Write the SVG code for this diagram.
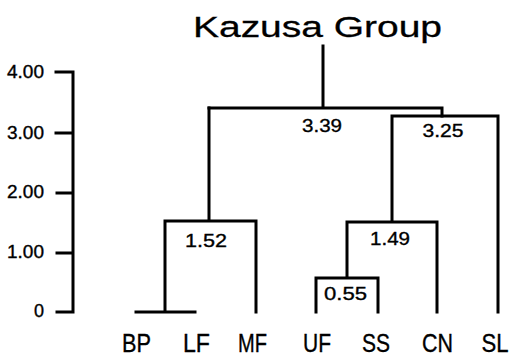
<svg xmlns="http://www.w3.org/2000/svg" width="511" height="357" viewBox="0 0 511 357">
<style>
.ln{stroke:#000;stroke-width:3;fill:none;stroke-linecap:square;stroke-linejoin:miter}
.t{font-family:"Liberation Sans",Arial,sans-serif;fill:#000;stroke:#000;stroke-width:0.35}
.ax{font-size:18px;text-anchor:end}
.num{font-size:19px;text-anchor:middle}
.lab{font-size:25px;text-anchor:middle}
.title{font-size:30px;text-anchor:middle;stroke-width:0.3}
</style>
<rect width="511" height="357" fill="#fff"/>
<text id="title" class="t title" x="317.5" y="37" textLength="249" lengthAdjust="spacingAndGlyphs">Kazusa Group</text>
<g id="axis">
<path class="ln" d="M56 72H73V312H57M56 133H73M57 193H73M57 253H73"/>
<text class="t ax" x="44" y="78" textLength="37" lengthAdjust="spacingAndGlyphs">4.00</text>
<text class="t ax" x="44" y="139" textLength="37" lengthAdjust="spacingAndGlyphs">3.00</text>
<text class="t ax" x="44" y="198" textLength="37" lengthAdjust="spacingAndGlyphs">2.00</text>
<text class="t ax" x="44" y="258" textLength="37" lengthAdjust="spacingAndGlyphs">1.00</text>
<text class="t ax" x="44" y="317">0</text>
</g>
<g id="connectors">
<path class="ln" d="M323 46V108M209 108H442V116"/>
<path class="ln" d="M209 108V221M165 221H256V312M165 221V312M136 312H195"/>
<path class="ln" d="M392 116H498V312M392 116V222M347 222H437V312M347 222V278M316 278H378V312M316 278V312"/>
</g>
<g id="n339"><text class="t num" x="322" y="132" textLength="40" lengthAdjust="spacingAndGlyphs">3.39</text></g>
<g id="n325"><text class="t num" x="443" y="137" textLength="41" lengthAdjust="spacingAndGlyphs">3.25</text></g>
<g id="n152"><text class="t num" x="206" y="247" textLength="42" lengthAdjust="spacingAndGlyphs">1.52</text></g>
<g id="n149"><text class="t num" x="390" y="245" textLength="40" lengthAdjust="spacingAndGlyphs">1.49</text></g>
<g id="n055"><text class="t num" x="345.5" y="300" textLength="43" lengthAdjust="spacingAndGlyphs">0.55</text></g>
<g id="BP"><text class="t lab" x="136.5" y="352" textLength="29" lengthAdjust="spacingAndGlyphs">BP</text></g>
<g id="LF"><text class="t lab" x="196.5" y="352" textLength="27" lengthAdjust="spacingAndGlyphs">LF</text></g>
<g id="MF"><text class="t lab" x="252.5" y="352" textLength="29" lengthAdjust="spacingAndGlyphs">MF</text></g>
<g id="UF"><text class="t lab" x="317" y="352" textLength="28" lengthAdjust="spacingAndGlyphs">UF</text></g>
<g id="SS"><text class="t lab" x="376" y="352" textLength="28" lengthAdjust="spacingAndGlyphs">SS</text></g>
<g id="CN"><text class="t lab" x="437.5" y="352" textLength="31" lengthAdjust="spacingAndGlyphs">CN</text></g>
<g id="SL"><text class="t lab" x="495" y="352" textLength="27" lengthAdjust="spacingAndGlyphs">SL</text></g>
</svg>
